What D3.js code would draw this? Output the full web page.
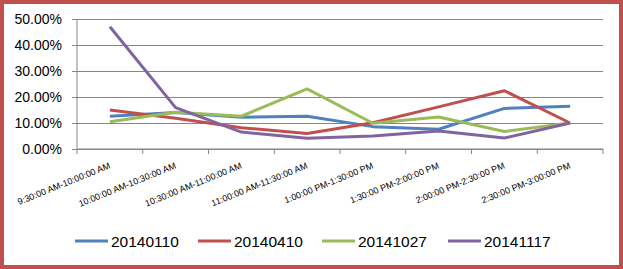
<!DOCTYPE html>
<html>
<head>
<meta charset="utf-8">
<script src="https://cdn.jsdelivr.net/npm/d3@7"></script>
<style>
    body { margin: 0; background: #fff; }
    svg { display: block; font-family: "Liberation Sans", Arial, sans-serif; }
</style>
</head>
<body>
<svg id="chart" width="623" height="269"></svg>
<script>
    // data (percent)
    var categories = [
        "9:30:00 AM-10:00:00 AM",
        "10:00:00 AM-10:30:00 AM",
        "10:30:00 AM-11:00:00 AM",
        "11:00:00 AM-11:30:00 AM",
        "1:00:00 PM-1:30:00 PM",
        "1:30:00 PM-2:00:00 PM",
        "2:00:00 PM-2:30:00 PM",
        "2:30:00 PM-3:00:00 PM"
    ];
    var seriesNames = ["20140110", "20140410", "20141027", "20141117"];
    var s20140110 = [12.6, 14.0, 12.2, 12.6, 8.6, 7.6, 15.6, 16.4];
    var s20140410 = [15.0, 11.8, 8.2, 6.0, 10.1, 16.2, 22.4, 10.0];
    var s20141027 = [10.5, 14.1, 12.6, 23.1, 9.9, 12.3, 6.7, 10.0];
    var s20141117 = [47.0, 15.9, 6.5, 4.1, 5.0, 6.9, 4.2, 10.0];
    var yTicks = [0, 10, 20, 30, 40, 50];

    var seriesValues = [s20140110, s20140410, s20141027, s20141117];
    var colors = ["#4f81bd", "#c0504d", "#9bbb59", "#8064a2"];

    var svg = d3.select("#chart");

    // red frame
    svg.append("rect")
        .attr("x", 2).attr("y", 2)
        .attr("width", 619).attr("height", 265)
        .attr("fill", "#fff")
        .attr("stroke", "#c0504d")
        .attr("stroke-width", 4);

    var margin = {left: 77, top: 19, right: 20, bottom: 120};
    var width = 603 - margin.left;
    var height = 149 - margin.top;

    var chart = svg.append("g")
        .attr("transform", "translate(" + margin.left + "," + margin.top + ")");

    var x = d3.scaleBand().domain(categories).range([0, width]);
    var y = d3.scaleLinear().domain([0, 50]).range([height, 0]);

    // gridlines + y axis
    var yAxis = d3.axisLeft(y)
        .tickValues(yTicks)
        .tickSize(-width - 5)
        .tickFormat(function(d){ return d.toFixed(2) + "%"; });
    var gy = chart.append("g")
        .attr("transform", "translate(-5,0)")
        .call(yAxis);
    gy.select(".domain").remove();
    gy.selectAll(".tick line").attr("stroke", "#868686");
    gy.selectAll(".tick text")
        .attr("x", -10)
        .attr("fill", "#000")
        .style("font-size", "14px");

    chart.append("line")
        .attr("x1", 0).attr("x2", 0)
        .attr("y1", 0).attr("y2", height)
        .attr("stroke", "#868686");

    // x axis: line, ticks at category boundaries
    chart.append("line")
        .attr("x1", 0).attr("x2", width)
        .attr("y1", height).attr("y2", height)
        .attr("stroke", "#868686");
    chart.selectAll(".xtick")
        .data(d3.range(categories.length + 1))
        .enter()
        .append("line")
        .attr("x1", function(i){ return i * x.step(); })
        .attr("x2", function(i){ return i * x.step(); })
        .attr("y1", height).attr("y2", height + 5)
        .attr("stroke", "#868686");

    chart.selectAll(".xlabel")
        .data(categories)
        .enter()
        .append("text")
        .attr("text-anchor", "end")
        .attr("transform", function(d){
            return "translate(" + (x(d) + x.bandwidth() / 2 + 1) + "," + (height + 19) + ") rotate(-22)";
        })
        .style("font-size", "9px")
        .attr("fill", "#000")
        .text(function(d){ return d; });

    // lines
    var line = d3.line()
        .x(function(d, i){ return x(categories[i]) + x.bandwidth() / 2; })
        .y(function(d){ return y(d); });

    chart.selectAll(".series")
        .data(seriesValues)
        .enter()
        .append("path")
        .attr("fill", "none")
        .attr("stroke", function(d, i){ return colors[i]; })
        .attr("stroke-width", 3)
        .attr("stroke-linejoin", "round")
        .attr("d", line);

    // legend
    var legendX = [75, 198, 322, 448];
    var legend = svg.selectAll(".legend")
        .data(seriesNames)
        .enter()
        .append("g")
        .attr("transform", function(d, i){ return "translate(" + legendX[i] + ",241)"; });
    legend.append("line")
        .attr("x1", 0).attr("x2", 33)
        .attr("stroke", function(d, i){ return colors[i]; })
        .attr("stroke-width", 3);
    legend.append("text")
        .attr("x", 36)
        .attr("dy", "0.36em")
        .style("font-size", "15.5px")
        .attr("fill", "#000")
        .text(function(d){ return d; });
</script>
</body>
</html>
